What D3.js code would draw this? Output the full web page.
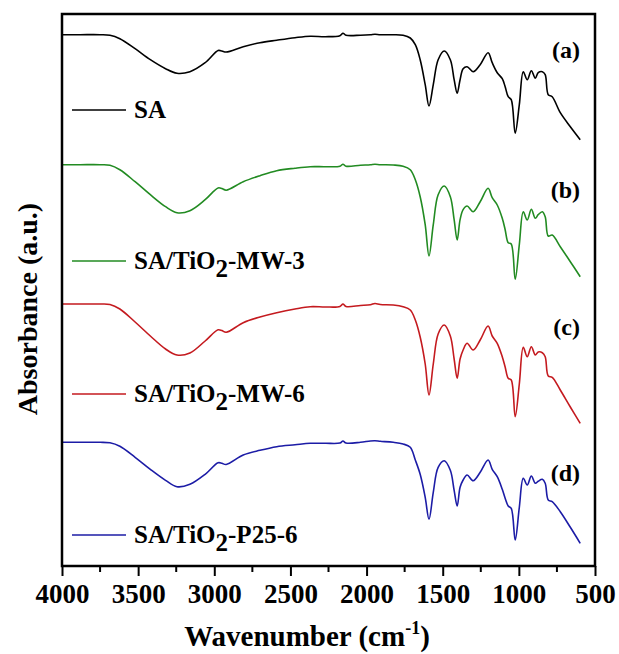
<!DOCTYPE html>
<html>
<head>
<meta charset="utf-8">
<script src="https://cdn.jsdelivr.net/npm/d3@7"></script>
<style>
  body { margin: 0; background: #fff; }
  svg text { font-family: "Liberation Serif", "Times New Roman", serif; font-weight: bold; fill: #000; }
</style>
</head>
<body>
<div id="chart"></div>
<script>
const WIDTH = 619;
const HEIGHT = 654;

// wavenumbers (cm-1) sampled along the spectra
const wavenumber = [4000, 3880, 3750, 3685, 3620, 3520, 3420, 3320, 3245, 3160, 3060, 2975, 2950, 2922,
  2810, 2700, 2590, 2470, 2370, 2270, 2175, 2155, 2135, 2040, 1975, 1945, 1910, 1825, 1760, 1713,
  1680, 1648, 1615, 1590, 1562, 1530, 1490, 1450, 1425, 1405, 1386, 1366, 1340, 1300, 1254, 1202,
  1175, 1142, 1109, 1090, 1070, 1050, 1024, 997, 971, 945, 918, 892, 873, 846, 827, 807, 781, 728, 662, 597];

// band depth below each spectrum's flat baseline (arbitrary units)
const depthSA = [0, 0, 0, 0.5, 4, 14, 25, 34, 38.6, 37, 28, 15.8, 16.3, 17.3, 12, 8, 5.5, 3, 1.5, 2,
  1, -1.5, 0.5, 0.5, 0, -0.5, 0, 0, 0.5, 3.3, 10, 25, 50, 71.3, 50, 25, 16.3, 25, 45, 58.6, 45, 34,
  32, 37, 30, 18, 28, 38, 44, 52, 62, 65, 98.6, 70, 37, 45, 36, 43.6, 38, 37, 40, 60, 62, 78, 92, 105];
const depthMW3 = [0, 0, 0, 0.5, 5, 17, 30, 42, 48, 46, 35, 23.2, 23.8, 25.5, 17, 11, 6, 3.5, 2, 2,
  1.5, -0.5, 1.5, 0.5, 0, -0.5, 0, 0.3, 1.5, 5, 15, 32, 60, 91.3, 60, 30, 21.3, 32, 55, 75.3, 55, 45,
  41.3, 47, 37, 23.6, 33, 40.3, 53.6, 65, 78, 79.3, 114.6, 80, 47, 55.3, 44.6, 53.6, 50, 47, 52, 71.3, 70.3, 82, 97, 112];
const depthMW6 = [0, 0, 0, 0.5, 5, 18, 32, 45, 51, 49, 37, 25.8, 26.6, 28.3, 18.7, 13, 8.7, 5, 2.7, 3,
  2.5, 0, 2.5, 1.5, 0.7, -0.5, 0.5, 1, 2.7, 6, 16, 33, 60, 91, 60, 30, 21, 32, 55, 74.3, 55, 46,
  39.3, 46, 36, 22, 32, 39.3, 52.7, 63, 74.3, 76, 112.7, 80, 43.3, 52.7, 42.7, 51, 48, 48.7, 52.7, 72, 73.3, 86, 103, 119.3];
const depthP25 = [0, 0, 0, 0.5, 4, 15, 27, 38, 44.4, 42, 32, 20.5, 21, 22.2, 12.7, 8, 4.4, 2.5, 1, 1,
  0.7, -1.3, 0.7, 0, -1.3, -1.5, -1, 0, 1.7, 5, 17.7, 32, 55, 77, 50, 25, 18.4, 28, 48, 63.7, 45, 37.7,
  32.7, 38.4, 30, 17.7, 27, 34.4, 47, 56, 63.7, 66, 97.7, 65, 36, 42.7, 33.7, 41, 39, 37, 41, 57.7, 59.4, 69.4, 85, 101];

const seriesNames = ["SA", "SA/TiO2-MW-3", "SA/TiO2-MW-6", "SA/TiO2-P25-6"];
const seriesTags = ["(a)", "(b)", "(c)", "(d)"];
const baselines = [531.3, 401.3, 262, 123.7];   // vertical stacking of the spectra
const xTicks = [4000, 3500, 3000, 2500, 2000, 1500, 1000, 500];

const colors = ["#000000", "#228b22", "#c41a1f", "#1c1ca6"];
const legendY = [110, 261, 394, 535];
const tagY = [58, 198, 335, 481];

const margin = { left: 62, right: 24, top: 14, bottom: 88 };

const svg = d3.select("#chart").append("svg")
  .attr("width", WIDTH)
  .attr("height", HEIGHT);

const x = d3.scaleLinear()
  .domain([4000, 500])
  .range([margin.left, WIDTH - margin.right]);

const y = d3.scaleLinear()
  .domain([0, 552])
  .range([HEIGHT - margin.bottom, margin.top]);

const depths = [depthSA, depthMW3, depthMW6, depthP25];
const series = seriesNames.map((name, i) => ({
  name: name,
  tag: seriesTags[i],
  color: colors[i],
  points: wavenumber.map((w, j) => ({ w: w, v: baselines[i] - depths[i][j] }))
}));

const line = d3.line()
  .x(d => x(d.w))
  .y(d => y(d.v))
  .curve(d3.curveCatmullRom.alpha(0.5));

svg.selectAll(".spectrum")
  .data(series)
  .join("path")
  .attr("class", "spectrum")
  .attr("fill", "none")
  .attr("stroke", d => d.color)
  .attr("stroke-width", 1.6)
  .attr("stroke-linejoin", "round")
  .attr("d", d => line(d.points));

// frame
svg.append("rect")
  .attr("x", margin.left)
  .attr("y", margin.top)
  .attr("width", WIDTH - margin.right - margin.left)
  .attr("height", HEIGHT - margin.bottom - margin.top)
  .attr("fill", "none")
  .attr("stroke", "#000")
  .attr("stroke-width", 2.5);

// x axis, major ticks + minor ticks
const xAxis = svg.append("g")
  .attr("transform", `translate(0,${HEIGHT - margin.bottom})`)
  .call(d3.axisBottom(x).tickValues(xTicks).tickSize(10).tickPadding(8).tickFormat(d3.format("d")));
xAxis.select(".domain").remove();
xAxis.selectAll(".tick line").attr("stroke-width", 2);
xAxis.selectAll(".tick text")
  .attr("font-size", 27)
  .attr("font-family", "Liberation Serif, Times New Roman, serif")
  .attr("font-weight", "bold");

const minor = d3.range(3750, 500, -500);
svg.append("g")
  .selectAll("line")
  .data(minor)
  .join("line")
  .attr("x1", d => x(d))
  .attr("x2", d => x(d))
  .attr("y1", HEIGHT - margin.bottom)
  .attr("y2", HEIGHT - margin.bottom + 6)
  .attr("stroke", "#000")
  .attr("stroke-width", 2);

// axis titles
const xTitle = svg.append("text")
  .attr("x", 307)
  .attr("y", 646)
  .attr("text-anchor", "middle")
  .attr("font-size", 29);
xTitle.append("tspan").text("Wavenumber (cm");
xTitle.append("tspan").attr("dy", -12).attr("font-size", 18).text("-1");
xTitle.append("tspan").attr("dy", 12).text(")");

svg.append("text")
  .attr("transform", "translate(37,309) rotate(-90)")
  .attr("text-anchor", "middle")
  .attr("font-size", 28)
  .text("Absorbance (a.u.)");

// legend
const legend = svg.selectAll(".legend")
  .data(series)
  .join("g")
  .attr("class", "legend")
  .attr("transform", (d, i) => `translate(72,${legendY[i]})`);

legend.append("line")
  .attr("x1", 0)
  .attr("x2", 54)
  .attr("stroke", d => d.color)
  .attr("stroke-width", 1.6);

legend.each(function (d) {
  const t = d3.select(this).append("text")
    .attr("x", 62)
    .attr("y", 8)
    .attr("font-size", 25);
  const parts = d.name.split("TiO2");
  if (parts.length === 1) {
    t.text(d.name);
  } else {
    t.append("tspan").text(parts[0] + "TiO");
    t.append("tspan").attr("dy", 8).text("2");
    t.append("tspan").attr("dy", -8).text(parts[1]);
  }
});

// panel tags
svg.selectAll(".tag")
  .data(series)
  .join("text")
  .attr("class", "tag")
  .attr("x", 580)
  .attr("y", (d, i) => tagY[i])
  .attr("text-anchor", "end")
  .attr("font-size", 24)
  .text(d => d.tag);
</script>
</body>
</html>
